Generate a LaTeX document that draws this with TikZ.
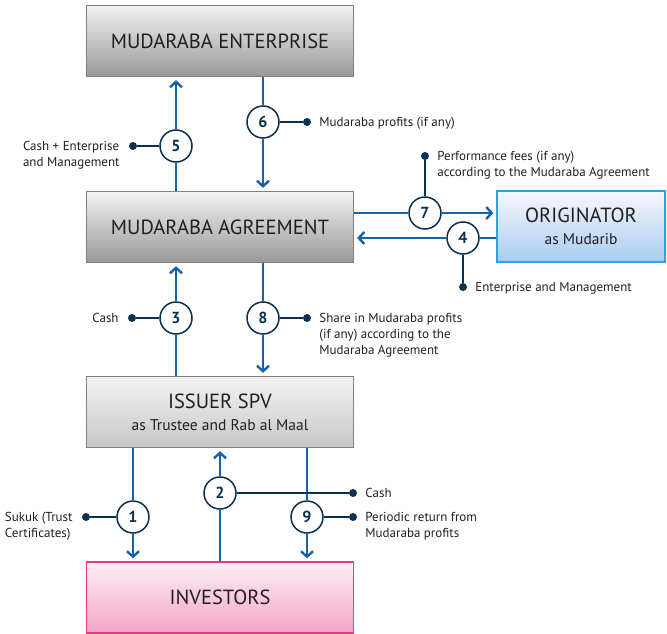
\documentclass[tikz,border=0pt]{standalone}
\usepackage{fontspec}
\setmainfont{PT Sans}
\usetikzlibrary{positioning,arrows.meta}
\definecolor{flowblue}{RGB}{22,98,170}
\definecolor{navy}{RGB}{12,48,80}
\definecolor{boxedge}{RGB}{128,128,132}
\definecolor{textdark}{RGB}{35,31,32}
\definecolor{origedge}{RGB}{44,162,224}
\definecolor{invedge}{RGB}{232,56,138}
\tikzset{
  gbox/.style  = {draw=boxedge, line width=1.3pt, top color=black!5, bottom color=black!40, minimum width=267pt, minimum height=71pt, inner sep=0pt, align=center, text=textdark, font=\fontsize{20.5}{24}\selectfont},
  lbox/.style  = {gbox, bottom color=black!22},
  obox/.style  = {gbox, draw=origedge, top color=blue!3, bottom color={rgb,255:red,168;green,204;blue,238}, minimum width=168pt},
  pbox/.style  = {gbox, draw=invedge, top color={rgb,255:red,253;green,238;blue,244}, bottom color={rgb,255:red,243;green,166;blue,198}},
  num/.style   = {circle, draw=navy, line width=1.5pt, fill=white, minimum size=32pt, inner sep=0pt, text=navy, font=\fontsize{16}{16}\selectfont\bfseries},
  dot/.style   = {circle, fill=navy, inner sep=0pt, minimum size=8pt},
  lbl/.style   = {inner sep=0pt, align=left, text=textdark, font=\fontsize{13}{16}\selectfont},
  flow/.style  = {draw=flowblue, line width=1.5pt},
  tip/.style   = {flow, -{Straight Barb[length=5.5pt, width=12pt, line width=2.4pt]}, shorten >=3pt},
  link/.style  = {draw=navy, line width=1.2pt},
}

\begin{document}
\begin{tikzpicture}[x=1pt, y=-1pt]
  \useasboundingbox (0,0) rectangle (667,634);
  % boxes
  \node[gbox] (ent)  at (220,41)  {MUDARABA ENTERPRISE};
  \node[gbox] (agr)  at (220,227) {MUDARABA AGREEMENT};
  \node[obox] (orig) at (581,226.5) {ORIGINATOR\\[-2pt]{\fontsize{15.5}{17}\selectfont as Mudarib}};
  \node[lbox] (spv)  at (220,412) {ISSUER SPV\\[-2pt]{\fontsize{15.5}{17}\selectfont as Trustee and Rab al Maal}};
  \node[pbox] (inv)  at (220,597.5) {INVESTORS};

  % numbered steps
  \node[num] (n5) at (176,146) {5};
  \node[num] (n6) at (263,122) {6};
  \node[num] (n7) at (425,213) {7};
  \node[num] (n4) at (463,238) {4};
  \node[num] (n3) at (176,318) {3};
  \node[num] (n8) at (263,318) {8};
  \node[num] (n2) at (220,493) {2};
  \node[num] (n1) at (133,517) {1};
  \node[num] (n9) at (307,517) {9};

  % label dots
  \node[dot] (d5) at (133,146) {};
  \node[dot] (d6) at (307,122) {};
  \node[dot] (d7) at (425,156) {};
  \node[dot] (d4) at (463,287) {};
  \node[dot] (d3) at (132,318) {};
  \node[dot] (d8) at (307,318) {};
  \node[dot] (d2) at (353,493) {};
  \node[dot] (d1) at (86,517)  {};
  \node[dot] (d9) at (353,517) {};

  % label texts
  \node[lbl, anchor=north east] (t5) at ([xshift=-9pt,yshift=5pt]d5.west) {Cash + Enterprise\\and Management};
  \node[lbl, anchor=north west] (t6) at ([xshift=8pt,yshift=5pt]d6.east) {Mudaraba profits (if any)};
  \node[lbl, anchor=north west] (t7) at ([xshift=8pt,yshift=5pt]d7.east) {Performance fees (if any)\\according to the Mudaraba Agreement};
  \node[lbl, anchor=north west] (t4) at ([xshift=8pt,yshift=5pt]d4.east) {Enterprise and Management};
  \node[lbl, anchor=north east] (t3) at ([xshift=-9pt,yshift=5pt]d3.west) {Cash};
  \node[lbl, anchor=north west] (t8) at ([xshift=8pt,yshift=5pt]d8.east) {Share in Mudaraba profits\\(if any) according to the\\Mudaraba Agreement};
  \node[lbl, anchor=north west] (t2) at ([xshift=8pt,yshift=5pt]d2.east) {Cash};
  \node[lbl, anchor=north east] (t1) at ([xshift=-9pt,yshift=5pt]d1.west) {Sukuk (Trust\\Certificates)};
  \node[lbl, anchor=north west] (t9) at ([xshift=8pt,yshift=5pt]d9.east) {Periodic return from\\Mudaraba profits};

  % flows
  \draw[flow] (agr.north -| n5) -- (n5);
  \draw[tip] (n5) -- (ent.south -| n5);
  \draw[flow] (ent.south -| n6) -- (n6);
  \draw[tip] (n6) -- (agr.north -| n6);
  \draw[flow] (agr.east |- n7) -- (n7);
  \draw[tip] (n7) -- (orig.west |- n7);
  \draw[flow] (orig.west |- n4) -- (n4);
  \draw[tip] (n4) -- (agr.east |- n4);
  \draw[flow] (spv.north -| n3) -- (n3);
  \draw[tip] (n3) -- (agr.south -| n3);
  \draw[flow] (agr.south -| n8) -- (n8);
  \draw[tip] (n8) -- (spv.north -| n8);
  \draw[flow] (inv.north -| n2) -- (n2);
  \draw[tip] (n2) -- (spv.south -| n2);
  \draw[flow] (spv.south -| n1) -- (n1);
  \draw[tip] (n1) -- (inv.north -| n1);
  \draw[flow] (spv.south -| n9) -- (n9);
  \draw[tip] (n9) -- (inv.north -| n9);

  % label links
  \draw[link] (n5) -- (d5);
  \draw[link] (n6) -- (d6);
  \draw[link] (n7) -- (d7);
  \draw[link] (n4) -- (d4);
  \draw[link] (n3) -- (d3);
  \draw[link] (n8) -- (d8);
  \draw[link] (n2) -- (d2);
  \draw[link] (n1) -- (d1);
  \draw[link] (n9) -- (d9);
\end{tikzpicture}
\end{document}
